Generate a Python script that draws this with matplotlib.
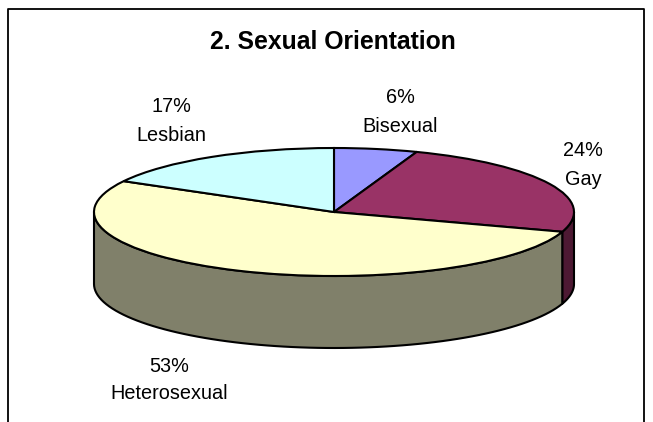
import numpy as np
import matplotlib
matplotlib.use('Agg')
from matplotlib import pyplot as plt

plt.rcParams['font.family'] = ['Liberation Sans', 'DejaVu Sans']

W, H = 653, 422

categories = ['Bisexual', 'Gay', 'Heterosexual', 'Lesbian']
percents = [5.6, 24.4, 53, 17]
pct_labels = ['6%', '24%', '53%', '17%']
top_colors = ['#9999ff', '#993366', '#ffffcc', '#ccffff']
side_colors = ['#4d4d80', '#4d1933', '#80806a', '#668080']
title = '2. Sexual Orientation'

# label centres in pixels, measured from top left
label_pos = [(400, 112), (583, 165), (169, 380), (171, 121)]
label_spacing = [1.65, 1.65, 1.5, 1.65]

# pie ellipse in pixels
cx, cy, rx, ry = 334, 212, 240, 64
depth = 72 / ry


def fx(px):
    return px / W


def fy(py):
    return 1 - py / H


fig = plt.figure(figsize=(W / 100, H / 100), dpi=100, facecolor='white')

# outer frame, runs off the bottom of the picture
bg = fig.add_axes([0, 0, 1, 1])
bg.set_xlim(0, W)
bg.set_ylim(H, 0)
bg.axis('off')
bg.plot([8, 8, 644, 644], [H + 5, 9, 9, H + 5], color='black', lw=1.3)

ax = fig.add_axes([fx(cx - rx), fy(cy + ry), 2 * rx / W, 2 * ry / H])
ax.patch.set_visible(False)

# side walls first, only the front half of the pie shows one
fracs = np.cumsum([0] + percents) / float(sum(percents)) * 360
for i in range(len(percents)):
    a0, a1 = fracs[i], fracs[i + 1]
    a0, a1 = max(a0, 90), min(a1, 270)
    if a1 <= a0:
        continue
    t = np.radians(np.linspace(a0, a1, 80))
    xs = np.sin(t)
    ys = np.cos(t)
    ax.fill(np.r_[xs, xs[::-1]], np.r_[ys, ys[::-1] - depth],
            facecolor=side_colors[i], edgecolor='black', lw=1.5,
            clip_on=False, joinstyle='round')

ax.pie(percents, colors=top_colors, startangle=90, counterclock=False,
       radius=1, wedgeprops={'edgecolor': 'black', 'linewidth': 1.5, 'clip_on': False})
ax.set_aspect('auto')
ax.set_xlim(-1, 1)
ax.set_ylim(-1, 1)

fig.text(fx(333), fy(42), title, ha='center', va='center',
         fontsize=17.8, fontweight='bold', color='black')

for name, pct, (px, py), sp in zip(categories, pct_labels, label_pos, label_spacing):
    fig.text(fx(px), fy(py), pct + '\n' + name, ha='center', va='center',
             fontsize=14.3, linespacing=sp, color='black')

fig.savefig('out.png', dpi=100)
